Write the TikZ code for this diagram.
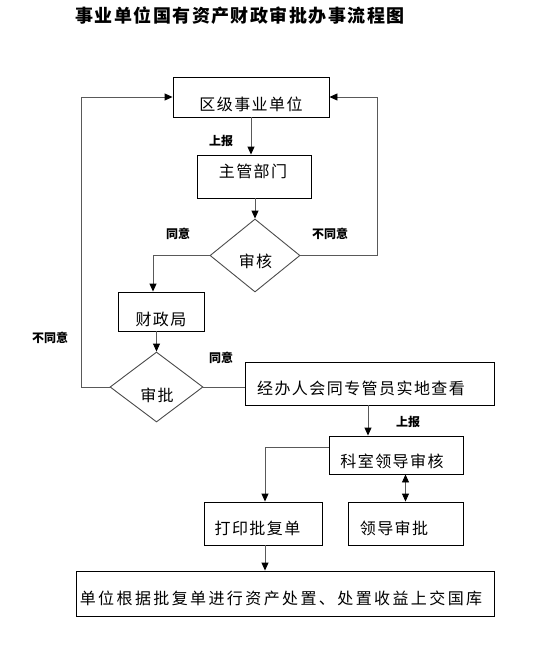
\documentclass[tikz,border=0pt]{standalone}
\usepackage{fontspec}
\setmainfont{Noto Sans CJK SC}
\usetikzlibrary{arrows.meta,shapes.geometric,calc}
\tikzset{
  box/.style={draw=black,line width=0.9pt,inner sep=0pt},
  dia/.style={diamond,draw=black!70,line width=0.9pt,inner sep=0pt},
  txt/.style={inner sep=0pt,font=\fontsize{16}{20}\selectfont\addfontfeature{LetterSpace=9}},
  lbl/.style={inner sep=0pt,font=\fontsize{12}{14}\selectfont\bfseries},
  conn/.style={draw=black!65,line width=0.9pt},
  arr/.style={conn,-{Triangle[length=8pt,width=7pt,color=black]}},
  darr/.style={conn,{Triangle[length=8pt,width=7pt,color=black]}-{Triangle[length=8pt,width=7pt,color=black]}}
}
\begin{document}
\begin{tikzpicture}[x=1pt,y=-1pt]
\useasboundingbox[fill=white] (0,0) rectangle (552,646);
% title
\node[inner sep=0pt,font=\fontsize{18}{22}\selectfont\bfseries\addfontfeature{LetterSpace=8}] (title) at (240,16) {事业单位国有资产财政审批办事流程图};
% boxes
\node[box,minimum width=156pt,minimum height=40pt] (b1) at (251,97) {};
\node[box,minimum width=114pt,minimum height=43pt] (b2) at (254,176.5) {};
\node[box,minimum width=86pt,minimum height=39pt] (b3) at (161,311.5) {};
\node[box,minimum width=249pt,minimum height=43pt] (b4) at (369.5,383.5) {};
\node[box,minimum width=134pt,minimum height=38pt] (b5) at (396,455) {};
\node[box,minimum width=118pt,minimum height=43pt] (b6) at (263,523.5) {};
\node[box,minimum width=115pt,minimum height=43pt] (b7) at (405.5,523.5) {};
\node[box,minimum width=418pt,minimum height=45pt] (b8) at (285,593.5) {};
% diamonds
\node[dia,minimum width=90pt,minimum height=73pt] (d1) at (255,255.5) {};
\node[dia,minimum width=93pt,minimum height=70pt] (d2) at (156.5,387) {};
% texts
\node[txt] (t1) at (251,104.5) {区级事业单位};
\node[txt] (t2) at (253,171.7) {主管部门};
\node[txt] (t3) at (161,319.3) {财政局};
\node[txt] (t4) at (361,388) {经办人会同专管员实地查看};
\node[txt] (t5) at (392,461.7) {科室领导审核};
\node[txt] (t6) at (257.5,528) {打印批复单};
\node[txt] (t7) at (394,528) {领导审批};
\node[txt,font=\fontsize{16}{21}\selectfont\addfontfeature{LetterSpace=15}] (t8) at (281,598) {单位根据批复单进行资产处置、处置收益上交国库};
\node[txt] (td1) at (255.5,261.7) {审核};
\node[txt] (td2) at (157,395) {审批};
% labels
\node[lbl] (l1) at (221,141) {上报};
\node[lbl] (l2) at (178,234) {同意};
\node[lbl] (l3) at (330,234) {不同意};
\node[lbl] (l4) at (50,338) {不同意};
\node[lbl] (l5) at (221,358) {同意};
\node[lbl] (l6) at (408,422) {上报};
% helper coordinates
\coordinate (cR) at (377,97);
\coordinate (cL) at (153,255.5);
\coordinate (cLL) at (81,97);
\coordinate (c5) at (265,447);
% connectors
\draw[arr] (b1.south) -- (b1.south |- b2.north);
\draw[arr] (d1.north |- b2.south) -- (d1.north);
\draw[arr] (d1.east) -- (d1.east -| cR) -- (cR) -- (b1.east);
\draw[arr] (d1.west) -- (cL) -- (cL |- b3.north);
\draw[arr] (d2.north |- b3.south) -- (d2.north);
\draw[arr] (d2.west) -- (d2.west -| cLL) -- (cLL) -- (b1.west);
\draw[conn] (d2.east) -- (d2.east -| b4.west);
\draw[arr] ([xshift=-1.5pt]b4.south) -- ([xshift=-1.5pt]b4.south |- b5.north);
\draw[arr] (c5 -| b5.west) -- (c5) -- (c5 |- b6.north);
\draw[darr] (b7.north |- b5.south) -- (b7.north);
\draw[arr] (c5 |- b6.south) -- (c5 |- b8.north);
\end{tikzpicture}
\end{document}
